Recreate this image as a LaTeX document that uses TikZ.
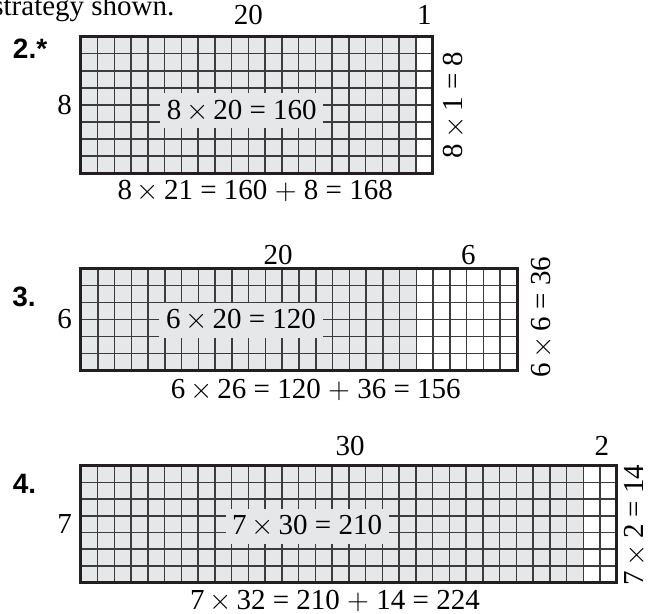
\documentclass[tikz,border=0pt]{standalone}
\usepackage{fontspec}
\setmainfont{Liberation Serif}
\newfontfamily\itemfont{Liberation Sans}
\usetikzlibrary{positioning}
\definecolor{ink}{HTML}{231F20}
\definecolor{cellgray}{HTML}{E6E7E8}
\definecolor{rule}{HTML}{3C3C3C}
\newcommand{\by}{\,$\times$\,}

\begin{document}
\begin{tikzpicture}[x=0.5pt,y=-0.5pt,
 shaded/.style={fill=cellgray},
 cellline/.style={draw=rule,line width=0.75pt},
 frame/.style={draw=ink,line width=1.5pt},
 prod/.style={fill=cellgray,inner sep=3.3pt,font=\fontsize{14.5}{16}\selectfont},
 lbl/.style={inner sep=0pt,font=\fontsize{14.5}{16}\selectfont},
 itemno/.style={inner sep=0pt,font=\fontsize{14}{16}\selectfont\itemfont\bfseries}]
\useasboundingbox (0,0) rectangle (650,614);
\node[lbl,anchor=base west] (intro) at (-8,16) {strategy shown.};
% problem 2: 8 x 21
\begin{scope}[shift={(81,36.7)},x=8.375pt,y=-8.52pt]
\fill[shaded] (0,0) rectangle (20,8);
\foreach \i in {1,...,20} \draw[cellline] (\i,0) -- (\i,8);
\foreach \j in {1,...,7} \draw[cellline] (0,\j) -- (21,\j);
\node[prod] (prod2) at (9.6,4.35) {8\by 20 = 160};
\draw[frame] (0,0) rectangle (21,8);
\node[lbl] (tens2) at (10,-1.26) {20};
\node[lbl] (ones2) at (20.5,-1.26) {1};
\node[lbl] (rows2) at (-0.98,4) {8};
\node[lbl,rotate=90] (part2) at (22.3,4) {8\by 1 = 8};
\node[lbl] (sum2) at (10.4,9.05) {8\by 21 = 160 $+$ 8 = 168};
\node[itemno] (no2) at (-3.04,0.72) {2.*};
\end{scope}
% problem 3: 6 x 26
\begin{scope}[shift={(81,268.3)},x=8.385pt,y=-8.535pt]
\fill[shaded] (0,0) rectangle (20,6);
\foreach \i in {1,...,25} \draw[cellline] (\i,0) -- (\i,6);
\foreach \j in {1,...,5} \draw[cellline] (0,\j) -- (26,\j);
\node[prod] (prod3) at (9.54,3.05) {6\by 20 = 120};
\draw[frame] (0,0) rectangle (26,6);
\node[lbl] (tens3) at (11.75,-0.78) {20};
\node[lbl] (ones3) at (23.1,-0.78) {6};
\node[lbl] (rows3) at (-0.98,3) {6};
\node[lbl,rotate=90] (part3) at (27.5,2.86) {6\by 6 = 36};
\node[lbl] (sum3) at (14,7.13) {6\by 26 = 120 $+$ 36 = 156};
\node[itemno] (no3) at (-3.4,1.66) {3.};
\end{scope}
% problem 4: 7 x 32
\begin{scope}[shift={(81,465.7)},x=8.375pt,y=-8.355pt]
\fill[shaded] (0,0) rectangle (30,7);
\foreach \i in {1,...,31} \draw[cellline] (\i,0) -- (\i,7);
\foreach \j in {1,...,6} \draw[cellline] (0,\j) -- (32,\j);
\node[prod] (prod4) at (13.5,3.64) {7\by 30 = 210};
\draw[frame] (0,0) rectangle (32,7);
\node[lbl] (tens4) at (16.06,-1.19) {30};
\node[lbl] (ones4) at (31.1,-1.19) {2};
\node[lbl] (rows4) at (-0.98,3.49) {7};
\node[lbl,rotate=90] (part4) at (33.1,3.55) {7\by 2 = 14};
\node[lbl] (sum4) at (15.16,8.12) {7\by 32 = 210 $+$ 14 = 224};
\node[itemno] (no4) at (-3.37,1.1) {4.};
\end{scope}
\end{tikzpicture}
\end{document}
